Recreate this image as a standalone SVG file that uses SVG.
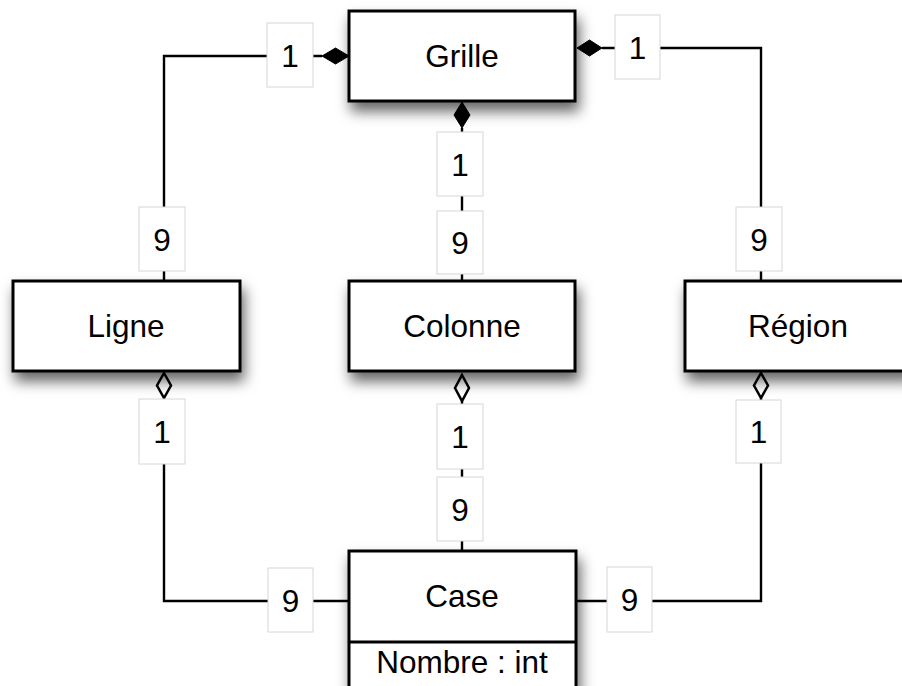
<svg xmlns="http://www.w3.org/2000/svg" width="902" height="686" viewBox="0 0 902 686">
<defs>
<filter id="sh" x="-20%" y="-30%" width="150%" height="180%">
<feDropShadow dx="3" dy="9" stdDeviation="7" flood-color="#000" flood-opacity="0.6"/>
</filter>
</defs>
<style>
.box{fill:#fff;stroke:#000;stroke-width:3;filter:url(#sh)}
.div{stroke:#000;stroke-width:3;fill:none}
.t{font-family:"Liberation Sans",Arial,Helvetica,sans-serif;font-size:31.5px;fill:#000;text-anchor:middle}
.ln{fill:none;stroke:#000;stroke-width:2.4}
.fd{fill:#000;stroke:#000;stroke-width:1}
.od{fill:#fff;stroke:#000;stroke-width:2.5}
.lb{fill:#fff;stroke:#d6d6d6;stroke-width:1}
</style>
<rect width="902" height="686" fill="#fff"/>
<g id="connectors">
<path class="ln" d="M322,56 H164 V281"/>
<path class="ln" d="M462,128 V281"/>
<path class="ln" d="M602,48 H761 V281"/>
<path class="ln" d="M164,398 V601 H349"/>
<path class="ln" d="M462,401 V551"/>
<path class="ln" d="M761,398 V601 H576"/>
<polygon class="fd" points="349,56 335.5,48 322,56 335.5,64"/>
<polygon class="fd" points="577,48 589.5,40 602,48 589.5,56"/>
<polygon class="fd" points="462,102 470,115 462,128 454,115"/>
<polygon class="od" points="164,373 171,385.5 164,398 157,385.5"/>
<polygon class="od" points="462,375 469,388 462,401 455,388"/>
<polygon class="od" points="761,373 768,385.5 761,398 754,385.5"/>
<g id="labels">
<rect class="lb" x="267" y="23" width="46" height="64"/><text class="t" x="290" y="67">1</text>
<rect class="lb" x="139" y="207" width="46" height="64"/><text class="t" x="162" y="251">9</text>
<rect class="lb" x="437" y="132" width="46" height="64"/><text class="t" x="460" y="176">1</text>
<rect class="lb" x="437" y="211" width="46" height="63"/><text class="t" x="460" y="254">9</text>
<rect class="lb" x="615" y="15" width="45" height="64"/><text class="t" x="637.5" y="59">1</text>
<rect class="lb" x="736" y="207" width="46" height="64"/><text class="t" x="759" y="251">9</text>
<rect class="lb" x="139" y="399" width="46" height="65"/><text class="t" x="162" y="443">1</text>
<rect class="lb" x="268" y="568" width="45" height="64"/><text class="t" x="290.5" y="612">9</text>
<rect class="lb" x="437" y="404" width="46" height="65"/><text class="t" x="460" y="448">1</text>
<rect class="lb" x="437" y="477" width="46" height="64"/><text class="t" x="460" y="521">9</text>
<rect class="lb" x="736" y="400" width="45" height="63"/><text class="t" x="758.5" y="443">1</text>
<rect class="lb" x="607" y="567" width="45" height="65"/><text class="t" x="629.5" y="611">9</text>
</g>
</g>
<g id="grille">
<rect class="box" x="349" y="11" width="226" height="90"/>
<text class="t" x="462" y="67">Grille</text>
</g>
<g id="ligne">
<rect class="box" x="13" y="281" width="227" height="90"/>
<text class="t" x="126" y="337">Ligne</text>
</g>
<g id="colonne">
<rect class="box" x="349" y="281" width="226" height="90"/>
<text class="t" x="462" y="337">Colonne</text>
</g>
<g id="region">
<rect class="box" x="685" y="281" width="226" height="90"/>
<text class="t" x="798" y="337">Région</text>
</g>
<g id="case">
<rect class="box" x="349" y="551" width="227" height="150"/>
<line class="div" x1="349" y1="642" x2="576" y2="642"/>
<text class="t" x="462" y="607">Case</text>
<text class="t" x="462" y="673">Nombre : int</text>
</g>
</svg>
